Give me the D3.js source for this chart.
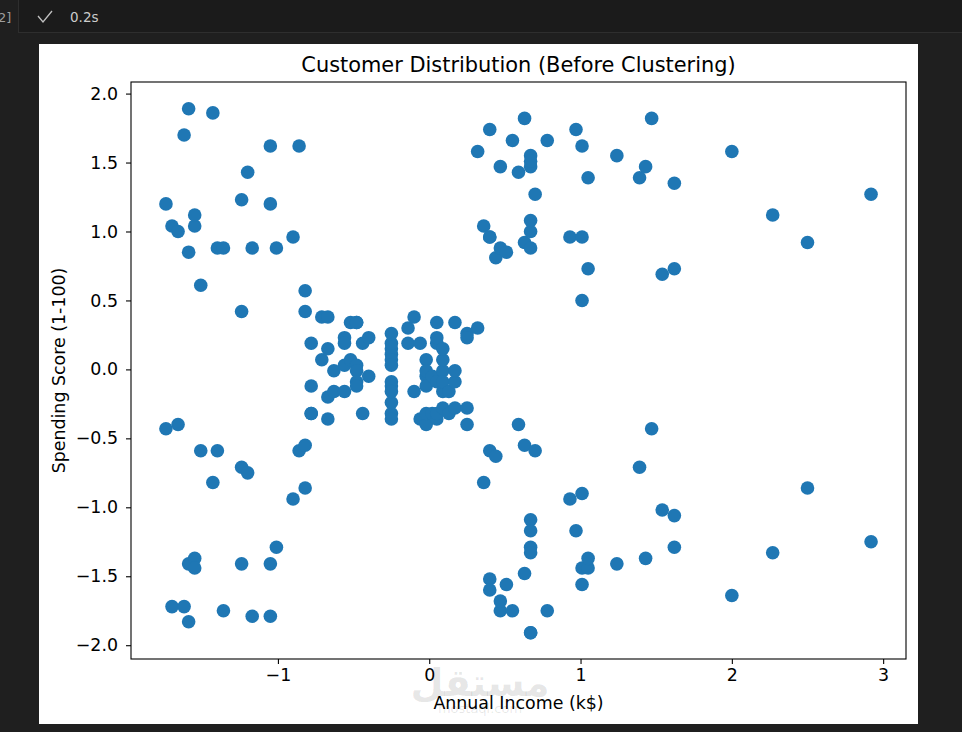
<!DOCTYPE html>
<html>
<head>
<meta charset="utf-8">
<script src="https://cdn.jsdelivr.net/npm/d3@7"></script>
<style>
  body { margin: 0; background: #1f1f1f; }
  svg { display: block; }
  text { font-family: "DejaVu Sans", sans-serif; }
</style>
</head>
<body>
<svg id="figure"></svg>
<script>
// standardized annual income (x) and spending score (y), 200 customers
var income = [
  -1.74,-1.74,-1.70,-1.70,-1.66,-1.66,-1.62,-1.62,-1.59,-1.59,
  -1.59,-1.59,-1.55,-1.55,-1.55,-1.55,-1.51,-1.51,-1.43,-1.43,
  -1.40,-1.40,-1.36,-1.36,-1.24,-1.24,-1.24,-1.24,-1.20,-1.20,
  -1.17,-1.17,-1.05,-1.05,-1.05,-1.05,-1.01,-1.01,-0.90,-0.90,
  -0.86,-0.86,-0.82,-0.82,-0.82,-0.82,-0.78,-0.78,-0.78,-0.78,
  -0.71,-0.71,-0.67,-0.67,-0.67,-0.67,-0.63,-0.63,-0.56,-0.56,
  -0.56,-0.56,-0.52,-0.52,-0.48,-0.48,-0.48,-0.48,-0.48,-0.48,
  -0.44,-0.44,-0.40,-0.40,-0.25,-0.25,-0.25,-0.25,-0.25,-0.25,
  -0.25,-0.25,-0.25,-0.25,-0.25,-0.25,-0.14,-0.14,-0.10,-0.10,
  -0.06,-0.06,-0.02,-0.02,-0.02,-0.02,-0.02,-0.02,0.02,0.02,
  0.05,0.05,0.05,0.05,0.05,0.05,0.09,0.09,0.09,0.09,
  0.09,0.09,0.13,0.13,0.17,0.17,0.17,0.17,0.25,0.25,
  0.25,0.25,0.32,0.32,0.36,0.36,0.40,0.40,0.40,0.40,
  0.40,0.40,0.44,0.44,0.47,0.47,0.47,0.47,0.51,0.51,
  0.55,0.55,0.59,0.59,0.63,0.63,0.63,0.63,0.67,0.67,
  0.67,0.67,0.67,0.67,0.67,0.67,0.67,0.67,0.67,0.67,
  0.70,0.70,0.78,0.78,0.93,0.93,0.97,0.97,1.01,1.01,
  1.01,1.01,1.01,1.01,1.05,1.05,1.05,1.05,1.24,1.24,
  1.39,1.39,1.43,1.43,1.47,1.47,1.54,1.54,1.62,1.62,
  1.62,1.62,2.00,2.00,2.27,2.27,2.50,2.50,2.92,2.92
];
var spending = [
  -0.43,1.20,-1.72,1.04,-0.40,1.00,-1.72,1.70,-1.83,0.85,
  -1.41,1.89,-1.37,1.04,-1.44,1.12,-0.59,0.61,-0.82,1.86,
  -0.59,0.88,-1.75,0.88,-1.41,1.23,-0.71,0.42,-0.75,1.43,
  -1.79,0.88,-1.79,1.62,-1.41,1.20,-1.29,0.88,-0.94,0.96,
  -0.59,1.62,-0.55,0.42,-0.86,0.57,0.19,-0.12,-0.32,-0.32,
  0.07,0.38,0.15,0.38,-0.20,-0.36,-0.01,-0.16,0.03,-0.16,
  0.23,0.19,0.07,0.34,0.03,0.34,-0.01,-0.09,0.34,-0.12,
  0.19,-0.32,-0.05,0.23,-0.12,0.15,0.11,-0.09,0.07,-0.32,
  0.03,0.19,-0.36,-0.24,0.26,-0.16,0.30,0.19,0.38,-0.16,
  0.19,-0.36,-0.05,-0.40,-0.32,0.07,-0.12,-0.01,-0.32,-0.05,
  -0.36,-0.09,0.34,0.19,0.23,-0.32,-0.01,-0.16,-0.28,-0.09,
  0.07,0.15,-0.32,-0.16,-0.09,-0.01,-0.28,0.34,-0.28,0.26,
  0.23,-0.40,0.30,1.58,-0.82,1.04,-0.59,1.74,-1.52,0.96,
  -1.60,0.96,-0.63,0.81,-1.75,1.47,-1.68,0.88,-1.56,0.85,
  -1.75,1.66,-0.40,1.43,-1.48,1.82,-0.55,0.92,-1.09,1.55,
  -1.29,1.47,-1.17,1.00,-1.33,1.51,-1.91,1.08,-1.91,0.88,
  -0.59,1.27,-1.75,1.66,-0.94,0.96,-1.17,1.74,-0.90,0.50,
  -1.44,0.96,-1.56,1.62,-1.44,1.39,-1.37,0.73,-1.41,1.55,
  -0.71,1.39,-1.37,1.47,-0.43,1.82,-1.02,0.69,-1.29,1.35,
  -1.06,0.73,-1.64,1.58,-1.33,1.12,-0.86,0.92,-1.25,1.27
];
var xTicks = [-1, 0, 1, 2, 3];
var yTicks = [-2.0, -1.5, -1.0, -0.5, 0.0, 0.5, 1.0, 1.5, 2.0];

var fullWidth = 962, fullHeight = 732;
var plot = { left: 131, top: 82, right: 906, bottom: 659 };

var svg = d3.select("#figure").attr("width", fullWidth).attr("height", fullHeight);

// notebook chrome
svg.append("rect").attr("x", 18).attr("y", 0).attr("width", fullWidth - 18).attr("height", 32).attr("fill", "#1b1b1b");
svg.append("line").attr("x1", 18).attr("x2", fullWidth).attr("y1", 32.5).attr("y2", 32.5).attr("stroke", "#2e2e2e");
svg.append("line").attr("x1", 18.5).attr("x2", 18.5).attr("y1", 0).attr("y2", 32).attr("stroke", "#2e2e2e");
svg.append("text").text("2]").attr("x", -2).attr("y", 22).attr("fill", "#9d9d9d").style("font-size", "13px");
svg.append("path").attr("d", "M38,16 L43,22 L52,11").attr("fill", "none").attr("stroke", "#c0c0c0").attr("stroke-width", 1.3);
svg.append("text").text("0.2s").attr("x", 70).attr("y", 22).attr("fill", "#cccccc").style("font-size", "13.5px");

// white figure
svg.append("rect").attr("x", 39).attr("y", 44).attr("width", 879).attr("height", 680).attr("fill", "#ffffff");

// site watermark (sits behind the labels)
svg.append("text").text("مستقل").attr("x", 480).attr("y", 696).attr("text-anchor", "middle")
    .attr("fill", "#000").attr("fill-opacity", 0.1).style("font-size", "38px").style("font-weight", "bold");
svg.append("text").text("mostaql.com").attr("x", 480).attr("y", 713).attr("text-anchor", "middle")
    .attr("fill", "#000").attr("fill-opacity", 0.1).style("font-size", "13px");

var xRange = d3.scaleLinear().domain([-1.971, 3.151]).range([plot.left, plot.right]);
var yRange = d3.scaleLinear().domain([-2.100, 2.084]).range([plot.bottom, plot.top]);

var fmtX = function (d) { return String(d).replace("-", "\u2212"); };
var fmtY = function (d) { return d3.format(".1f")(d).replace("-", "\u2212"); };

var xAxis = d3.axisBottom(xRange).tickValues(xTicks).tickFormat(fmtX).tickSize(5).tickPadding(5);
var yAxis = d3.axisLeft(yRange).tickValues(yTicks).tickFormat(fmtY).tickSize(5).tickPadding(8);

var gx = svg.append("g").attr("transform", "translate(0," + plot.bottom + ")").call(xAxis);
var gy = svg.append("g").attr("transform", "translate(" + plot.left + ",0)").call(yAxis);
[gx, gy].forEach(function (g) {
    g.select(".domain").remove();
    g.selectAll(".tick line").attr("stroke", "#000").attr("stroke-width", 1.1);
    g.selectAll(".tick text").attr("fill", "#000").style("font-size", "17.4px").style("font-family", "DejaVu Sans");
});

// points
svg.append("g").selectAll("circle")
    .data(income.map(function (v, i) { return { x: v, y: spending[i] }; }))
    .enter().append("circle")
    .attr("cx", function (d) { return xRange(d.x); })
    .attr("cy", function (d) { return yRange(d.y); })
    .attr("r", 6.8)
    .attr("fill", "#1f77b4");

// frame
svg.append("rect").attr("x", plot.left).attr("y", plot.top)
    .attr("width", plot.right - plot.left).attr("height", plot.bottom - plot.top)
    .attr("fill", "none").attr("stroke", "#000").attr("stroke-width", 1.1);

svg.append("text").text("Customer Distribution (Before Clustering)")
    .attr("x", (plot.left + plot.right) / 2).attr("y", 72).attr("text-anchor", "middle")
    .attr("fill", "#000").style("font-size", "20.9px");

svg.append("text").text("Annual Income (k$)")
    .attr("x", (plot.left + plot.right) / 2).attr("y", 709).attr("text-anchor", "middle")
    .attr("fill", "#000").style("font-size", "17.4px");

svg.append("text").text("Spending Score (1-100)")
    .attr("transform", "translate(65," + ((plot.top + plot.bottom) / 2) + ") rotate(-90)")
    .attr("text-anchor", "middle").attr("fill", "#000").style("font-size", "17.4px");
</script>
</body>
</html>
